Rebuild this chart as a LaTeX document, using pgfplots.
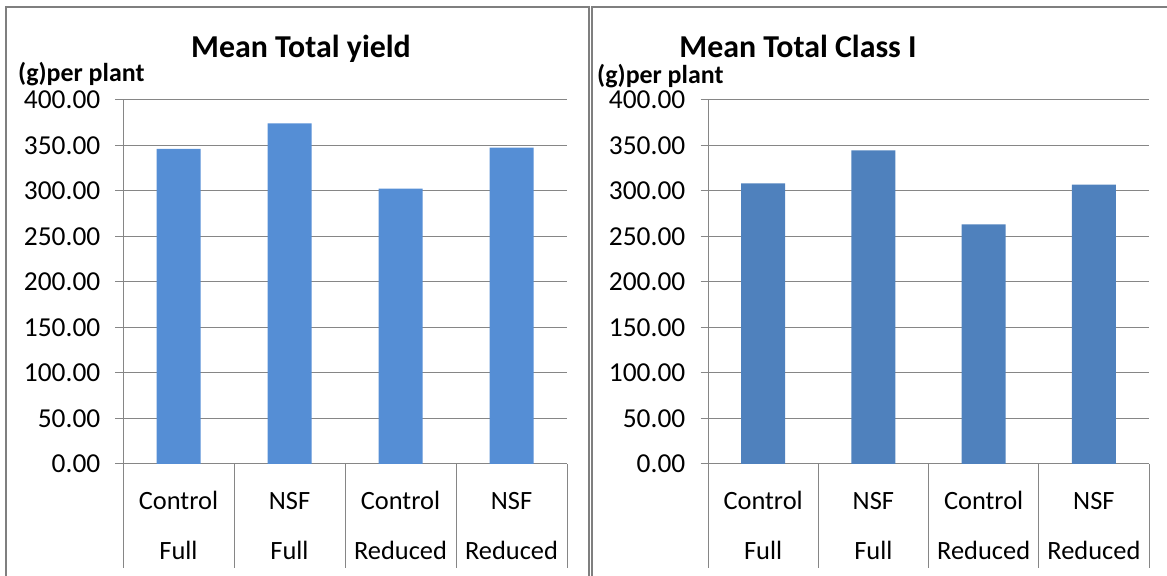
\documentclass[border=0pt]{standalone}
\usepackage{fontspec}
\setmainfont{Carlito}
\usepackage{pgfplots}
\pgfplotsset{compat=1.18}
\definecolor{barA}{HTML}{558ED5}
\definecolor{barB}{HTML}{4F81BD}
\definecolor{gridc}{HTML}{868686}
\definecolor{framec}{HTML}{7F7F7F}
\pgfplotsset{
  panel/.style={
    scale only axis, clip=false,
    height=364bp,
    xmin=-0.5, xmax=3.5, ymin=0, ymax=400,
    axis lines*=left,
    axis line style={gridc, line width=1bp},
    ymajorgrids, grid style={gridc, line width=1bp},
    ytick={0,50,...,400},
    xtick=\empty,
    tick align=outside,
    major tick length=7.5bp,
    tick style={gridc, line width=1bp},
    yticklabel style={font=\fontsize{27.5}{32}\selectfont, text=black, anchor=east, inner sep=0pt, xshift=-15bp},
    /pgf/number format/fixed,
    /pgf/number format/fixed zerofill,
    /pgf/number format/precision=2,
    /pgf/number format/assume math mode=true,
  },
}
\tikzset{catlab/.style={anchor=base, inner sep=0pt, font=\fontsize{26.5}{30}\selectfont},
  sep/.style={gridc, line width=1bp}}
\begin{document}
\begin{tikzpicture}[x=1bp,y=1bp]
\path[use as bounding box] (0,0) rectangle (1167,576);
% panel frames
\draw[framec, line width=2bp] (5.5,-10) -- (5.5,568.5) -- (589,568.5) -- (589,-10);
\draw[framec, line width=2bp] (592,-10) -- (592,568.5) -- (1180,568.5);
% titles
\node[anchor=base, inner sep=0pt, font=\bfseries\fontsize{32}{36}\selectfont] at (301,518) {Mean Total yield};
\node[anchor=base west, inner sep=0pt, font=\bfseries\fontsize{26}{30}\selectfont] at (18,494) {(g)per plant};
\node[anchor=base, inner sep=0pt, font=\bfseries\fontsize{32}{36}\selectfont] at (798,518) {Mean Total Class I};
\node[anchor=base west, inner sep=0pt, font=\bfseries\fontsize{26}{30}\selectfont] at (597,492) {(g)per plant};

\begin{axis}[panel, width=444bp, at={(123bp,112bp)}, anchor=south west]
\addplot[ybar, bar width=44bp, fill=barA, draw=none] coordinates {(0,346.2) (1,374.4) (2,302.5) (3,347.6)};
\draw[sep] (axis cs:-0.5,0) -- ++(0pt,-104bp);
\draw[sep] (axis cs:0.5,0) -- ++(0pt,-104bp);
\draw[sep] (axis cs:1.5,0) -- ++(0pt,-104bp);
\draw[sep] (axis cs:2.5,0) -- ++(0pt,-104bp);
\draw[sep] (axis cs:3.5,0) -- ++(0pt,-104bp);
\node[catlab, yshift=-45.3bp] at (axis cs:0,0) {Control};
\node[catlab, yshift=-45.3bp] at (axis cs:1,0) {NSF};
\node[catlab, yshift=-45.3bp] at (axis cs:2,0) {Control};
\node[catlab, yshift=-45.3bp] at (axis cs:3,0) {NSF};
\node[catlab, yshift=-96bp] at (axis cs:0,0) {Full};
\node[catlab, yshift=-96bp] at (axis cs:1,0) {Full};
\node[catlab, yshift=-96bp] at (axis cs:2,0) {Reduced};
\node[catlab, yshift=-96bp] at (axis cs:3,0) {Reduced};
\end{axis}

\begin{axis}[panel, width=441bp, at={(708bp,112bp)}, anchor=south west]
\addplot[ybar, bar width=44bp, fill=barB, draw=none] coordinates {(0,308.5) (1,344.7) (2,263.4) (3,306.9)};
\draw[sep] (axis cs:-0.5,0) -- ++(0pt,-104bp);
\draw[sep] (axis cs:0.5,0) -- ++(0pt,-104bp);
\draw[sep] (axis cs:1.5,0) -- ++(0pt,-104bp);
\draw[sep] (axis cs:2.5,0) -- ++(0pt,-104bp);
\draw[sep] (axis cs:3.5,0) -- ++(0pt,-104bp);
\node[catlab, yshift=-45.3bp] at (axis cs:0,0) {Control};
\node[catlab, yshift=-45.3bp] at (axis cs:1,0) {NSF};
\node[catlab, yshift=-45.3bp] at (axis cs:2,0) {Control};
\node[catlab, yshift=-45.3bp] at (axis cs:3,0) {NSF};
\node[catlab, yshift=-96bp] at (axis cs:0,0) {Full};
\node[catlab, yshift=-96bp] at (axis cs:1,0) {Full};
\node[catlab, yshift=-96bp] at (axis cs:2,0) {Reduced};
\node[catlab, yshift=-96bp] at (axis cs:3,0) {Reduced};
\end{axis}
\end{tikzpicture}
\end{document}
